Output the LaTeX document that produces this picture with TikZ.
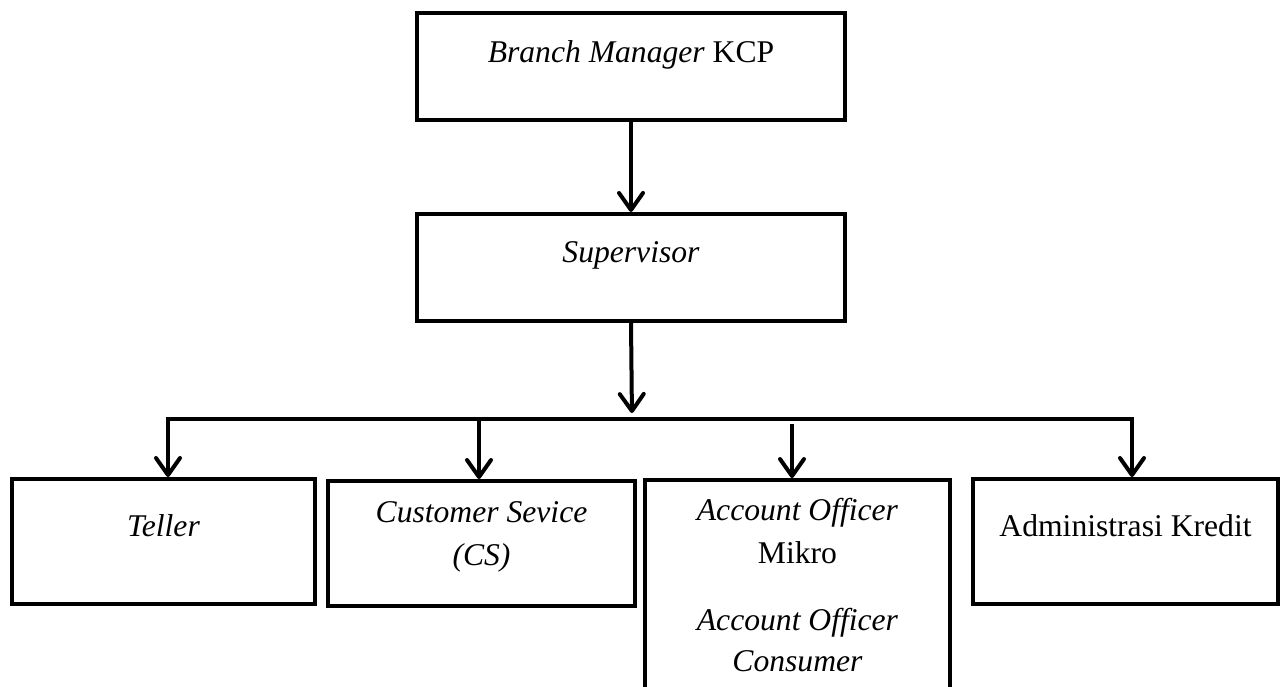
\documentclass[tikz,border=0pt]{standalone}
\usepackage{fontspec}
\setmainfont{Liberation Serif}
\usetikzlibrary{positioning, arrows.meta}

\begin{document}
\begin{tikzpicture}[
        x=0.02cm, y=-0.02cm,
        unitbox/.style={rectangle, draw=black, line width=0.08cm, minimum width=8.56cm, minimum height=2.14cm, inner sep=0pt},
        staffbox/.style={rectangle, draw=black, line width=0.08cm, minimum height=2.5cm, inner sep=0pt},
        boxtext/.style={anchor=base, inner sep=0pt, font=\fontsize{18}{22}\selectfont},
        link/.style={line width=0.08cm, line cap=rect},
        arr/.style={link, -{Straight Barb[length=3.4mm, width=4.8mm, line cap=round, line join=round]}},
        ]
        \useasboundingbox (0,0) rectangle (1284,686);
        \clip (0,0) rectangle (1284,686);
        %Nodes
        \node[unitbox]                (bm)   at (631,66.5)  {};
        \node[unitbox]                (sup)  [below=1.8cm of bm] {};
        \node[staffbox, minimum width=6.06cm] (teller) at (163.5,541.5) {};
        \node[staffbox, minimum width=6.14cm] (cs)     at (481.5,543.5) {};
        \node[staffbox, minimum width=6.1cm, minimum height=5cm] (ao) at (797.5,605) {};
        \node[staffbox, minimum width=6.1cm]  (admin)  at (1125.5,541.5) {};

        %Texts
        \node[boxtext] (bmtext)     at ([yshift=-1.02cm]bm.north)     {\textit{Branch Manager} KCP};
        \node[boxtext] (suptext)    at ([yshift=-1.02cm]sup.north)    {\textit{Supervisor}};
        \node[boxtext] (tellertext) at ([yshift=-1.18cm]teller.north) {\textit{Teller}};
        \node[boxtext] (cstext)     at ([yshift=-0.86cm]cs.north)     {\textit{Customer Sevice}};
        \node[boxtext] (cstextb)    at ([yshift=-1.72cm]cs.north)     {\textit{(CS)}};
        \node[boxtext] (aotext)     at ([yshift=-0.84cm]ao.north)     {\textit{Account Officer}};
        \node[boxtext] (aotextb)    at ([yshift=-1.7cm]ao.north)      {Mikro};
        \node[boxtext] (aotextc)    at ([yshift=-3.04cm]ao.north)     {\textit{Account Officer}};
        \node[boxtext] (aotextd)    at ([yshift=-3.88cm]ao.north)     {\textit{Consumer}};
        \node[boxtext] (admintext)  at ([yshift=-1.18cm]admin.north)  {Administrasi Kredit};

        %Lines
        \coordinate (bus)  at (632,419);
        \coordinate (busL) at (168,419);
        \coordinate (busR) at (1132,419);
        \coordinate (csup) at (479,419);
        \coordinate (aoup) at (792,426);
        \draw[arr] (bm.south) -- (sup.north);
        \draw[arr, shorten >=0.12cm] (sup.south) -- (bus);
        \draw[link] (busL) -- (busR);
        \draw[arr] (busL) -- (busL |- teller.north);
        \draw[arr] (csup) -- (csup |- cs.north);
        \draw[arr] (aoup) -- (aoup |- ao.north);
        \draw[arr] (busR) -- (busR |- admin.north);
\end{tikzpicture}
\end{document}
